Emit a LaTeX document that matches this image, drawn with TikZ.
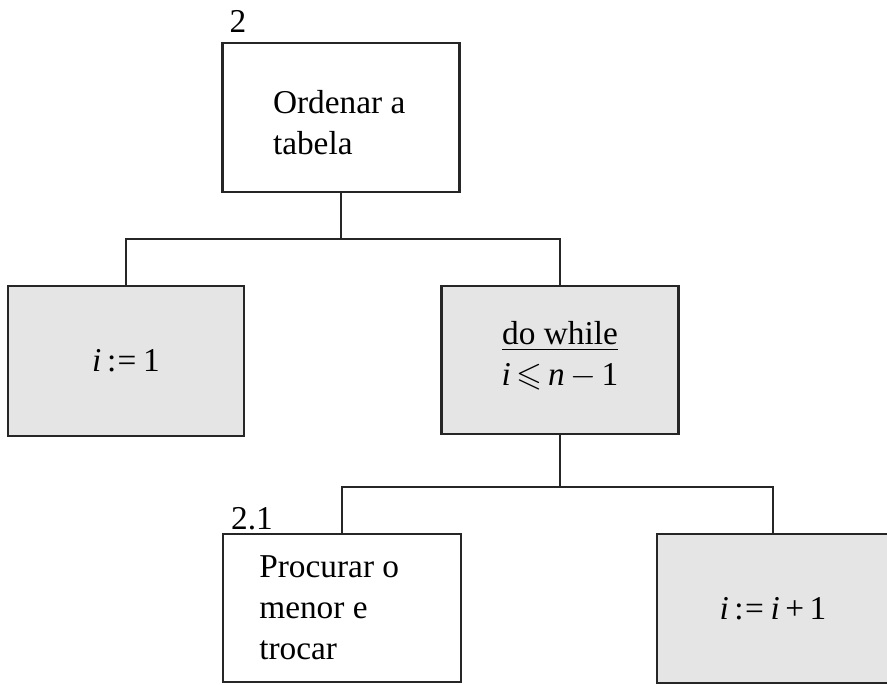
\documentclass[tikz,border=0pt]{standalone}
\usepackage{amssymb}
\usepackage{fontspec}
\setmainfont{Liberation Serif}
\begin{document}
\begin{tikzpicture}[x=0.75pt,y=-0.75pt,
  box/.style={draw=black!85, line width=1.6pt, rectangle, inner sep=0pt,
    font=\fontsize{25}{30.75}\selectfont, align=left},
  shaded/.style={box, fill=black!10},
  wire/.style={draw=black!85, line width=1.6pt},
  tag/.style={font=\fontsize{25}{28}\selectfont, inner sep=0pt}]
\useasboundingbox (0,0) rectangle (887,684);

% procedure boxes
\node[box, minimum width=177.75pt, minimum height=111.75pt] (A) at (341,117.5)
  {\raisebox{-4pt}[\height][\depth]{\parbox{102pt}{Ordenar a\\tabela}}};
\node[shaded, minimum width=177pt, minimum height=112.5pt, align=center] (B) at (126,361)
  {\textit{i}\,:\kern1pt=\kern5pt1};
\node[shaded, minimum width=177.75pt, minimum height=111pt, align=center] (C) at (560,360)
  {\raisebox{3pt}[\height][\depth]{\parbox{100pt}{\centering\underline{do while}\\\textit{i}\,$\leqslant$\,\textit{n}\,$-$\,1}}};
\node[box, minimum width=178.5pt, minimum height=111pt] (D) at (342,608)
  {\parbox{124pt}{Procurar o\\menor e\\trocar}};
\node[shaded, minimum width=174pt, minimum height=111.75pt, align=center] (E) at (773,608.5)
  {\textit{i}\,:\kern1pt=\kern5pt\textit{i}\,+\,1};

% step numbers
\node[tag] (nA) at (238,21) {2};
\node[tag] (nD) at (252,519) {2.1};

% hierarchy connectors
\coordinate (j1) at (341,239);
\coordinate (j2) at (560,487);
\draw[wire] (A.south) -- (j1);
\draw[wire] (B.north) |- (j1) -| (C.north);
\draw[wire] (C.south) -- (j2);
\draw[wire] (D.north) |- (j2) -| (E.north);
\end{tikzpicture}
\end{document}
